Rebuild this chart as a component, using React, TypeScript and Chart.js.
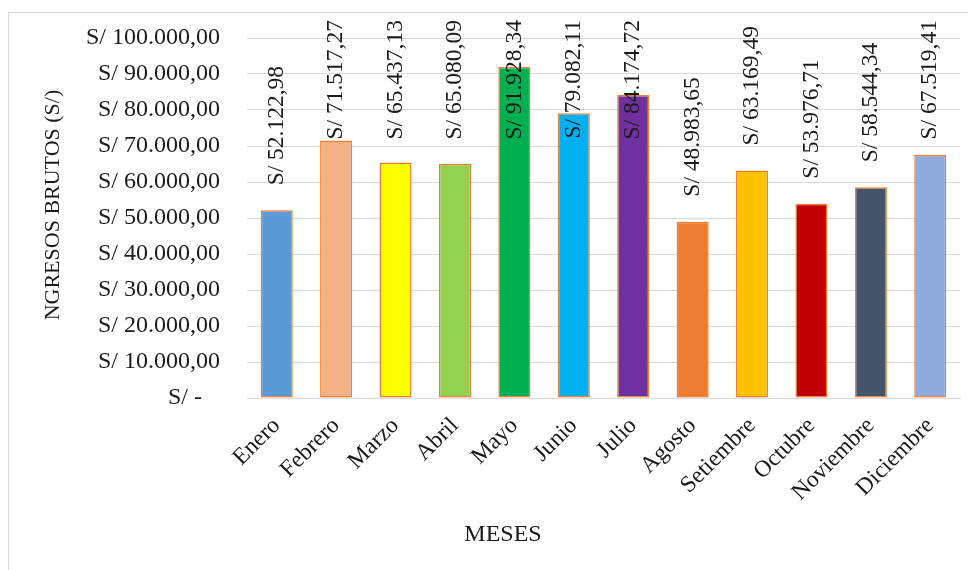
import React, { useEffect, useRef } from "react";
import { Chart, registerables } from "chart.js";

Chart.register(...registerables);

const months: string[] = [
  "Enero", "Febrero", "Marzo", "Abril", "Mayo", "Junio",
  "Julio", "Agosto", "Setiembre", "Octubre", "Noviembre", "Diciembre",
];

const ingresos: number[] = [
  52122.98, 71517.27, 65437.13, 65080.09, 91928.34, 79082.11,
  84174.72, 48983.65, 63169.49, 53976.71, 58544.34, 67519.41,
];

const barColors: string[] = [
  "#5B9BD5", "#F4B183", "#FFFF00", "#92D050", "#00B050", "#00B0F0",
  "#7030A0", "#ED7D31", "#FFC000", "#C00000", "#44546A", "#8FAADC",
];

const yTitle = "NGRESOS BRUTOS (S/)";
const xTitle = "MESES";
const yMax = 100000;
const yStep = 10000;

const FONT = '"Liberation Serif", "Times New Roman", serif';

function fmtMoney(v: number): string {
  const fixed = v.toFixed(2);
  const [intPart, dec] = fixed.split(".");
  const withDots = intPart.replace(/\B(?=(\d{3})+(?!\d))/g, ".");
  return "S/ " + withDots + "," + dec;
}

function tickLabel(v: number): string {
  if (v === 0) return "S/ -   ";
  return fmtMoney(v);
}

const dataLabelPlugin = {
  id: "rotatedLabels",
  afterDatasetsDraw(chart: any) {
    const ctx = chart.ctx;
    const meta = chart.getDatasetMeta(0);
    const top = chart.chartArea.top - 18;
    ctx.save();
    ctx.font = `23.5px ${FONT}`;
    ctx.fillStyle = "#1a1a1a";
    ctx.textAlign = "left";
    ctx.textBaseline = "middle";
    meta.data.forEach((bar: any, i: number) => {
      const text = fmtMoney(ingresos[i]);
      const w = ctx.measureText(text).width;
      let bottom = bar.y - 25;
      if (bottom - w < top) bottom = top + w;
      ctx.save();
      ctx.translate(bar.x, bottom);
      ctx.rotate(-Math.PI / 2);
      ctx.fillText(text, 0, 0);
      ctx.restore();
    });
    ctx.restore();
  },
};

const titlesPlugin = {
  id: "axisTitlesCustom",
  afterDraw(chart: any) {
    const ctx = chart.ctx;
    const { left, right, top, bottom } = chart.chartArea;
    ctx.save();
    ctx.fillStyle = "#1a1a1a";
    ctx.textAlign = "center";
    ctx.textBaseline = "middle";
    ctx.font = `24px ${FONT}`;
    ctx.fillText(xTitle, left + (right - left) * 0.359, bottom + 137);
    ctx.font = `22px ${FONT}`;
    ctx.translate(44, top + (bottom - top) * 0.464);
    ctx.rotate(-Math.PI / 2);
    ctx.fillText(yTitle, 0, 0);
    ctx.restore();
  },
};

export default function App() {
  const ref = useRef<HTMLCanvasElement | null>(null);

  useEffect(() => {
    if (!ref.current) return;
    const chart = new Chart(ref.current, {
      type: "bar",
      data: {
        labels: months,
        datasets: [
          {
            data: ingresos,
            backgroundColor: barColors,
            borderColor: "#ED7D31",
            borderWidth: 1.5,
            borderSkipped: false,
            categoryPercentage: 1,
            barPercentage: 0.54,
          },
        ],
      },
      options: {
        animation: false,
        responsive: false,
        devicePixelRatio: 1,
        layout: { padding: { left: 10, right: 7, top: 25, bottom: 25 } },
        plugins: {
          legend: { display: false },
          tooltip: { enabled: false },
        },
        scales: {
          x: {
            grid: { display: false, drawTicks: false },
            border: { display: true, color: "#D9D9D9", width: 1 },
            ticks: {
              minRotation: 45,
              maxRotation: 45,
              padding: 14,
              color: "#1a1a1a",
              font: { family: FONT, size: 23.5 },
            },
            afterFit(scale: any) {
              scale.height = 150;
              scale.paddingTop = 0;
              scale.paddingBottom = 0;
            },
          },
          y: {
            min: 0,
            max: yMax,
            grid: { color: "#D9D9D9", lineWidth: 1, drawTicks: false },
            border: { display: false },
            ticks: {
              stepSize: yStep,
              padding: 27,
              color: "#1a1a1a",
              font: { family: FONT, size: 24 },
              callback: (v: any) => tickLabel(Number(v)),
            },
            title: { display: false },
            afterFit(scale: any) {
              scale.width = 228;
              scale.paddingTop = 0;
              scale.paddingBottom = 0;
            },
          },
        },
      },
      plugins: [dataLabelPlugin, titlesPlugin],
    });
    return () => chart.destroy();
  }, []);

  return (
    <div style={{ paddingTop: 4 }}>
      <div style={{ width: 958, height: 560, border: "1px solid #D9D9D9", background: "#fff" }}>
        <canvas ref={ref} width={958} height={560} style={{ display: "block", width: 958, height: 560 }} />
      </div>
    </div>
  );
}
